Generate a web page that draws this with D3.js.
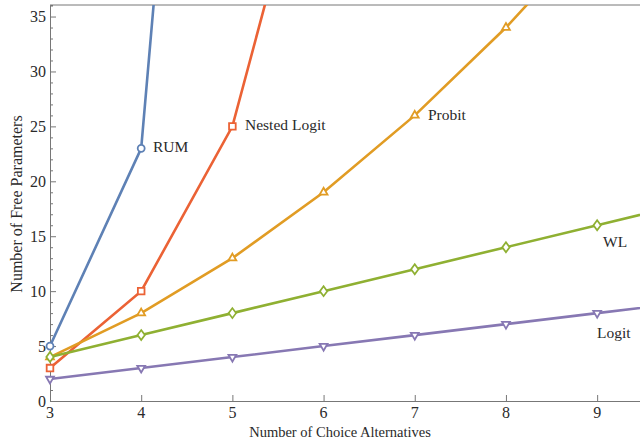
<!DOCTYPE html>
<html>
<head>
<meta charset="utf-8">
<script src="https://cdn.jsdelivr.net/npm/d3@7"></script>
<style>
  body { margin: 0; background: #fff; }
  text { font-family: "Liberation Serif", "DejaVu Serif", serif; fill: #2a2a2a; }
</style>
</head>
<body>
<svg id="chart"></svg>
<script>
const WIDTH = 640;
const HEIGHT = 443;
const margin = {top: 5, right: 0, bottom: 42, left: 50};
const width = WIDTH - margin.left - margin.right;
const height = HEIGHT - margin.top - margin.bottom;

// number of choice alternatives
const alternatives = [3, 4, 5, 6, 7, 8, 9, 10];
// free parameters per model
const rum = [5, 23, 119];
const nestedLogit = [3, 10, 25, 56];
const probit = [4, 8, 13, 19, 26, 34, 43];
const wl = [4, 6, 8, 10, 12, 14, 16, 18];
const logit = [2, 3, 4, 5, 6, 7, 8, 9];
const xTicks = [3, 4, 5, 6, 7, 8, 9];
const yTicks = [0, 5, 10, 15, 20, 25, 30, 35];

const series = [
  {name: 'RUM', values: rum, color: '#5E81B5', symbol: 'circle', label: [153, 147]},
  {name: 'Nested Logit', values: nestedLogit, color: '#EB6235', symbol: 'square', label: [245, 125]},
  {name: 'Probit', values: probit, color: '#E19C24', symbol: 'up', label: [428, 115]},
  {name: 'WL', values: wl, color: '#8FB032', symbol: 'diamond', label: [603, 242]},
  {name: 'Logit', values: logit, color: '#8778B3', symbol: 'down', label: [597, 333]}
];

const svg = d3.select('#chart')
    .attr('width', WIDTH)
    .attr('height', HEIGHT);

const x = d3.scaleLinear().domain([3, 9.47]).range([0, width]);
const y = d3.scaleLinear().domain([0, 36.05]).range([height, 0]);

const g = svg.append('g')
    .attr('transform', `translate(${margin.left},${margin.top})`);

g.append('clipPath').attr('id', 'clip')
  .append('rect')
    .attr('x', -6).attr('y', 0)
    .attr('width', width + 6).attr('height', height + 6);

// top frame line
g.append('line')
    .attr('x1', 0).attr('x2', width).attr('y1', 0).attr('y2', 0)
    .attr('stroke', '#777').attr('stroke-width', 1);

// y axis (ticks pointing inward)
const yAxis = g.append('g')
    .call(d3.axisRight(y).tickValues(d3.range(0, 37)).tickSize(3).tickFormat(''));
yAxis.select('.domain').attr('stroke', '#777');
yAxis.selectAll('.tick line').attr('stroke', '#777')
    .attr('x2', d => d % 5 === 0 ? 6 : 3);
g.append('g').selectAll('text')
  .data(yTicks)
  .join('text')
    .attr('x', -4)
    .attr('y', d => y(d))
    .attr('dy', '0.35em')
    .attr('text-anchor', 'end')
    .style('font-size', '16px')
    .text(d => d);

// x axis
const xAxis = g.append('g')
    .attr('transform', `translate(0,${height})`)
    .call(d3.axisTop(x).tickValues(xTicks).tickSize(6).tickFormat(''));
xAxis.select('.domain').attr('stroke', '#777');
xAxis.selectAll('.tick line').attr('stroke', '#777');
g.append('g').selectAll('text')
  .data(xTicks)
  .join('text')
    .attr('x', d => x(d))
    .attr('y', height + 17)
    .attr('text-anchor', 'middle')
    .style('font-size', '16px')
    .text(d => d);

// axis titles
svg.append('text')
    .attr('x', 340)
    .attr('y', 437)
    .attr('text-anchor', 'middle')
    .style('font-size', '14.5px')
    .text('Number of Choice Alternatives');
svg.append('text')
    .attr('transform', 'translate(22,204) rotate(-90)')
    .attr('text-anchor', 'middle')
    .style('font-size', '16px')
    .text('Number of Free Parameters');

// lines
const plot = g.append('g').attr('clip-path', 'url(#clip)');
const line = d3.line()
    .x((d, i) => x(alternatives[i]))
    .y(d => y(d));

series.forEach(s => {
  plot.append('path')
      .datum(s.values)
      .attr('d', line)
      .attr('fill', 'none')
      .attr('stroke', s.color)
      .attr('stroke-width', 2.6);
});

// markers
const sym = {
  circle: d3.symbol(d3.symbolCircle, 38),
  square: d3.symbol(d3.symbolSquare, 44),
  diamond: d3.symbol(d3.symbolDiamond2, 48),
  up: d3.symbol(d3.symbolTriangle2, 44),
  down: d3.symbol(d3.symbolTriangle2, 44)
};
series.forEach(s => {
  const pts = s.values
      .map((v, i) => [alternatives[i], v])
      .filter(p => p[0] <= 9 && p[1] <= 36);
  plot.selectAll(null)
    .data(pts)
    .join('path')
      .attr('d', sym[s.symbol]())
      .attr('transform', p => `translate(${x(p[0])},${y(p[1])})` +
        (s.symbol === 'down' ? ' rotate(180)' : '') +
        (s.symbol === 'diamond' ? ' scale(0.85,1.15)' : ''))
      .attr('fill', '#fff')
      .attr('stroke', s.color)
      .attr('stroke-width', 1.8);
});

// series labels
svg.append('g').selectAll('text')
  .data(series)
  .join('text')
    .attr('x', d => d.label[0])
    .attr('y', d => d.label[1])
    .attr('dy', '0.35em')
    .style('font-size', '15.5px')
    .text(d => d.name);
</script>
</body>
</html>
